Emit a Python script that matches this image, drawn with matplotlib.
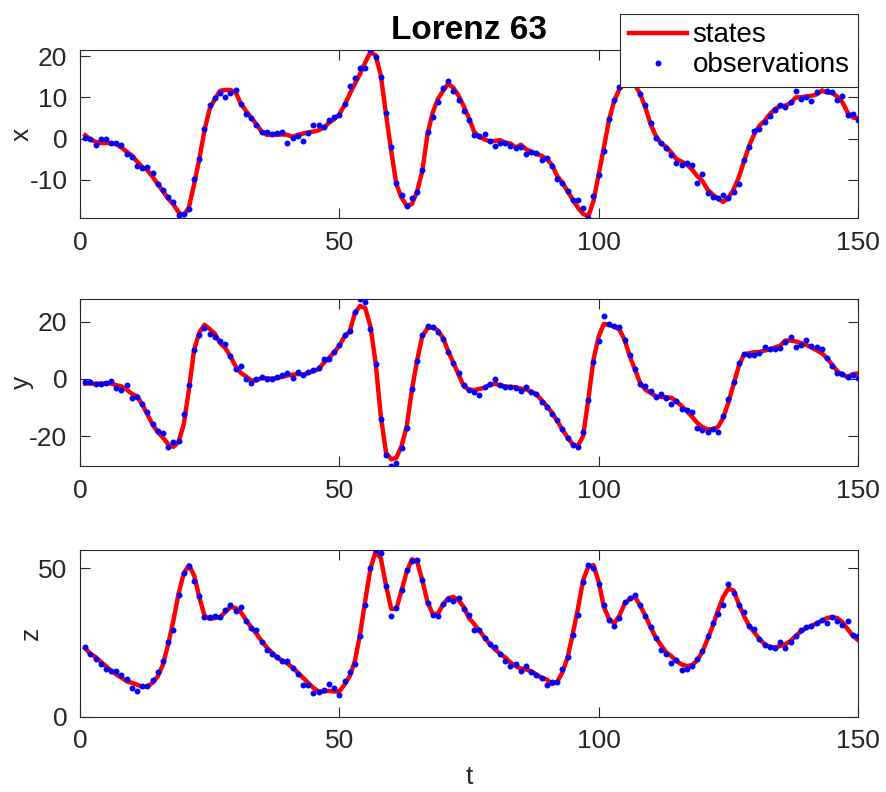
import numpy as np
import matplotlib
matplotlib.use("Agg")
import matplotlib.pyplot as plt

plt.rcParams['font.family'] = ['Liberation Sans', 'DejaVu Sans']
plt.rcParams['axes.unicode_minus'] = False

# time steps 1..150
t = np.arange(1, 151)

# model states
x_state = [0.8, -0.2, -0.8, -1.1, -1.1, -1.1, -1.4, -2.2, -3.2, -4.1, -5.6, -6.9, -7.7, -9.3, -11.1, -12.8,
           -14.6, -16.0, -17.9, -18.7, -16.7, -11.1, -5.0, 2.0, 7.2, 9.6, 11.6, 11.8, 11.8, 11.2, 8.5, 6.7,
           5.1, 3.5, 1.7, 0.9, 0.9, 0.9,
           1.0, 0.9, 0.4, 0.9, 1.2, 1.5, 1.7, 2.0, 2.7, 3.8, 4.7, 5.9, 8.1, 10.8, 13.3, 15.7, 18.5, 21.0,
           20.2, 15.3, 5.9, -3.0, -11.1, -14.4, -16.3, -15.9, -12.8, -7.9, 1.1, 6.3, 9.6, 11.6, 13.3, 12.3,
           10.4, 7.8, 4.9, 1.6,
           0.4, -0.2, -0.7, -0.6, -0.4, -1.0, -1.2, -2.2, -1.5, -2.6, -3.2, -3.7, -4.2, -5.0, -6.4, -9.1,
           -10.7, -12.8, -14.8, -16.8, -18.3, -18.9, -15.2, -8.7, -2.2, 4.5, 9.2, 12.0, 13.3, 13.3, 13.1,
           10.8, 7.6, 3.5, 0.7, -1.2, -2.0,
           -3.4, -5.0, -5.6, -6.3, -7.5, -9.1, -10.3, -12.4, -13.6, -14.6, -15.4, -14.4, -12.4, -9.5, -5.6,
           -1.8, 1.1, 3.1, 4.3, 5.9, 7.2, 7.8, 8.0, 8.6, 10.0, 10.0, 10.2, 10.4, 10.7, 11.6, 11.2, 11.1,
           10.2, 8.8, 6.3, 5.1, 5.0]
y_state = [-1.6, -1.6, -1.7, -1.6, -1.6, -1.6, -2.2, -2.6, -3.7, -5.2, -6.0, -8.9, -12.4, -15.9, -18.6,
           -20.5, -22.8, -23.7, -22.0, -15.9, -3.7, 10.2, 16.2, 18.9, 17.4, 15.8, 12.5, 10.8, 7.9, 4.4,
           2.1, 0.9, -0.5, -0.5, 0.3, 0.2, 0.1, 0.3,
           0.7, 1.2, 1.5, 1.7, 1.5, 2.1, 2.7, 3.5, 5.6, 7.3, 9.3, 11.6, 14.8, 16.6, 23.0, 25.5, 24.7, 18.3,
           5.6, -13.0, -25.7, -28.1, -27.5, -23.4, -16.5, -3.7, 6.5, 15.0, 17.7, 18.0, 16.9, 14.3, 9.6,
           5.6, 1.5, -2.6, -3.7, -3.9,
           -3.5, -3.1, -2.0, -1.7, -2.2, -2.6, -2.8, -2.9, -3.4, -3.7, -4.4, -5.4, -7.4, -9.5, -11.8,
           -14.7, -17.6, -20.5, -22.8, -23.4, -19.9, -7.2, 6.7, 14.8, 19.2, 18.9, 18.3, 17.2, 13.7, 7.9,
           3.2, -1.4, -3.7, -4.9, -6.0, -6.3, -6.4,
           -6.6, -7.8, -9.5, -11.2, -13.2, -15.3, -16.8, -17.6, -17.6, -16.8, -13.6, -8.3, -2.0, 4.4, 8.5,
           9.0, 9.3, 9.4, 9.9, 10.4, 11.0, 11.6, 13.4, 13.4, 13.1, 12.5, 11.9, 11.0, 10.0, 9.0, 7.3, 5.0,
           2.7, 1.5, 0.7, 1.7, 1.9]
z_state = [23.1, 21.3, 20.2, 18.6, 17.1, 15.6, 14.3, 13.2, 12.0, 11.5, 10.9, 10.1, 10.3, 11.5, 13.7, 17.7,
           24.5, 32.4, 41.5, 48.3, 51.1, 47.7, 40.4, 34.1, 33.0, 33.3, 33.6, 35.3, 37.0, 36.7, 35.3, 32.7,
           30.2, 28.1, 25.6, 23.4, 21.7, 20.0,
           19.0, 18.0, 16.6, 14.9, 13.2, 11.5, 9.8, 8.6, 8.6, 8.8, 8.6, 8.6, 10.9, 13.7, 18.8, 27.9, 39.2,
           50.0, 55.7, 53.4, 44.3, 36.4, 36.4, 42.6, 48.9, 53.1, 52.3, 46.0, 38.7, 34.7, 34.7, 37.9, 40.0,
           40.4, 39.2, 37.0, 33.3, 31.3,
           29.0, 26.8, 24.5, 22.8, 21.3, 20.0, 18.3, 17.1, 16.3, 16.0, 15.4, 14.3, 13.2, 12.6, 11.1, 11.8,
           15.0, 20.0, 27.9, 36.4, 46.0, 50.6, 51.1, 45.5, 37.0, 33.0, 31.5, 34.1, 38.1, 39.8, 40.4, 37.5,
           34.1, 30.2, 26.8, 24.2, 21.8,
           20.5, 18.8, 17.7, 17.1, 17.5, 19.0, 22.0, 26.2, 30.7, 35.8, 40.4, 43.2, 42.6, 38.1, 34.1, 30.7,
           28.5, 26.2, 24.5, 23.6, 23.4, 23.9, 24.5, 25.6, 27.3, 28.8, 29.9, 30.7, 31.5, 32.4, 33.3, 33.6,
           33.3, 31.9, 29.6, 27.3, 25.9]

# noisy observations
x_obs = [0.2, -0.2, -1.6, -0.2, -0.2, -1.0, -1.1, -1.5, -3.7, -4.5, -6.6, -7.1, -6.9, -8.3, -11.1, -12.5,
         -14.1, -15.3, -18.6, -18.3, -17.0, -9.9, -4.9, 2.2, 8.1, 9.9, 11.1, 10.2, 11.1, 11.9, 8.4, 6.0,
         5.0, 3.4, 1.5, 1.5, 1.1, 1.4,
         1.6, -1.0, 0.1, 0.6, -0.6, 1.4, 3.3, 3.3, 2.8, 4.6, 5.3, 5.7, 8.4, 12.8, 14.6, 17.2, 17.1, 21.5,
         19.8, 14.9, 6.2, -2.0, -10.7, -13.6, -16.5, -14.4, -12.9, -7.6, 1.6, 5.3, 8.9, 12.3, 13.9, 11.6,
         9.3, 6.6, 4.6, 0.8,
         0.5, 1.1, -0.7, -1.9, -1.2, -1.1, -1.7, -2.2, -2.1, -3.8, -3.2, -3.4, -5.2, -4.7, -6.6, -9.8,
         -10.9, -12.8, -15.0, -15.0, -16.8, -19.3, -14.0, -8.9, -3.0, 4.7, 9.3, 12.4, 13.4, 13.8, 13.3,
         10.8, 8.1, 3.7, 0.2, -1.2, -2.4,
         -4.0, -6.0, -6.4, -6.0, -6.4, -10.9, -8.7, -13.2, -14.2, -14.4, -13.7, -14.4, -13.0, -11.1,
         -5.2, -2.0, 1.9, 2.3, 4.1, 5.5, 6.9, 8.1, 7.6, 8.8, 11.5, 9.5, 10.0, 9.0, 11.2, 12.9, 11.5,
         11.2, 9.3, 10.4, 5.8, 5.9, 4.5]
y_obs = [-1.2, -1.0, -1.6, -1.9, -1.3, -0.6, -3.2, -3.8, -2.0, -6.5, -6.3, -8.7, -11.6, -15.9, -18.1,
         -19.0, -23.8, -21.9, -21.7, -12.1, -2.0, 10.2, 15.4, 17.9, 15.8, 14.5, 13.4, 12.3, 7.9, 3.5,
         4.4, 0.0, -1.4, 0.0, 0.8, 0.1, 0.0, 0.5,
         1.2, 1.9, 0.3, 2.3, 1.2, 2.3, 3.2, 3.8, 7.0, 7.0, 9.5, 11.9, 15.3, 16.9, 23.2, 27.9, 26.7, 17.5,
         5.2, -13.9, -26.4, -30.4, -29.2, -24.0, -17.0, -3.5, 6.3, 15.2, 18.6, 18.1, 16.3, 14.0, 9.3,
         5.6, 2.1, -2.2, -3.7, -4.5,
         -5.7, -2.8, -1.6, -0.2, -2.0, -2.9, -2.8, -3.1, -4.1, -2.8, -4.4, -5.2, -8.1, -9.9, -12.4,
         -14.5, -17.6, -20.6, -23.2, -23.7, -18.7, -7.4, 5.9, 13.3, 21.9, 19.1, 18.6, 18.2, 13.7, 8.2,
         3.5, -1.6, -2.6, -4.1, -6.3, -5.4, -6.5,
         -8.9, -7.8, -10.4, -10.7, -11.6, -17.3, -17.7, -18.6, -17.6, -18.6, -12.8, -7.0, -1.2, 5.6,
         8.8, 8.5, 8.3, 9.0, 11.1, 10.6, 10.6, 10.7, 12.8, 14.8, 11.0, 11.7, 13.7, 11.4, 11.1, 10.6,
         7.3, 4.4, 2.0, 1.7, 0.7, 1.5, 0.3]
z_obs = [23.6, 21.3, 19.4, 17.7, 16.2, 15.6, 15.4, 14.3, 12.8, 9.8, 8.6, 10.5, 10.5, 12.6, 15.2, 18.9,
         25.2, 29.4, 40.9, 48.6, 50.8, 45.8, 40.7, 33.8, 33.6, 33.9, 33.8, 36.1, 37.8, 35.7, 37.0, 32.2,
         29.8, 29.4, 25.4, 22.6, 21.3, 20.3,
         18.8, 18.8, 16.6, 14.5, 10.7, 10.9, 8.0, 8.3, 9.0, 11.1, 9.8, 7.3, 12.2, 15.3, 17.9, 27.3, 37.8,
         50.2, 56.2, 55.1, 44.0, 33.9, 36.6, 42.6, 49.4, 52.6, 52.8, 46.0, 38.4, 34.4, 34.1, 38.1, 39.6,
         38.9, 40.0, 36.4, 34.2, 29.4,
         29.4, 26.5, 24.5, 23.7, 21.1, 18.8, 17.3, 17.9, 15.6, 17.0, 15.1, 14.1, 13.2, 10.9, 11.7, 11.8,
         16.2, 20.2, 27.7, 34.4, 45.5, 51.1, 50.0, 44.8, 37.8, 32.7, 30.6, 33.3, 38.8, 40.1, 40.9, 37.8,
         34.1, 30.2, 26.5, 22.4, 21.1,
         18.3, 19.2, 15.8, 16.3, 17.3, 19.6, 22.2, 27.1, 31.6, 34.7, 37.8, 44.6, 41.7, 37.8, 35.3, 30.5,
         29.6, 26.4, 24.3, 23.4, 23.1, 25.3, 23.1, 25.1, 27.3, 29.3, 30.2, 30.5, 31.6, 32.8, 31.6, 33.6,
         32.4, 31.0, 32.4, 27.7, 27.3]

names = ['x', 'y', 'z']
states = [x_state, y_state, z_state]
observations = [x_obs, y_obs, z_obs]
yticks = [[-10, 0, 10, 20], [-20, 0, 20], [0, 50]]

axcol = '#262626'
fs = 19

fig = plt.figure(figsize=(8.87, 7.92), dpi=100)
# axes boxes in figure pixels: (bottom, height)
boxes = [(574, 168), (326, 167), (75, 167)]
axes = []
for i in range(3):
    b, h = boxes[i]
    ax = fig.add_axes([80/887, b/792, 778/887, h/792])
    ax.plot(t, states[i], color='red', lw=3.2, label='states', zorder=2)
    ax.plot(t, observations[i], '.', color='blue', ms=6.5, label='observations', zorder=3)
    ax.set_xlim(0, 150)
    lo, hi = min(observations[i]), max(observations[i])
    if names[i] == 'z':
        lo = 0
    ax.set_ylim(lo, hi)
    ax.set_xticks([0, 50, 100, 150])
    ax.set_yticks(yticks[i])
    ax.tick_params(direction='in', length=7, width=0.8, top=True, right=True,
                   labelsize=fs, colors=axcol, pad=9)
    for s in ax.spines.values():
        s.set_color(axcol)
        s.set_linewidth(0.8)
    ax.set_ylabel(names[i], fontsize=fs, color=axcol, labelpad=-3)
    axes.append(ax)

axes[0].set_title('Lorenz 63', fontsize=24, fontweight='bold', pad=8)
axes[2].set_xlabel('t', fontsize=fs, color=axcol, labelpad=8)

leg = axes[0].legend(loc='upper right', bbox_to_anchor=(858/887, 1 - 14/792),
                     bbox_transform=fig.transFigure, fontsize=20, fancybox=False,
                     framealpha=1, edgecolor=axcol, borderpad=0.3, labelspacing=0.15,
                     handlelength=2.1, handletextpad=0.2, borderaxespad=0)
leg.get_frame().set_linewidth(0.8)
leg.set_zorder(5)

fig.savefig('out.png', dpi=100)
